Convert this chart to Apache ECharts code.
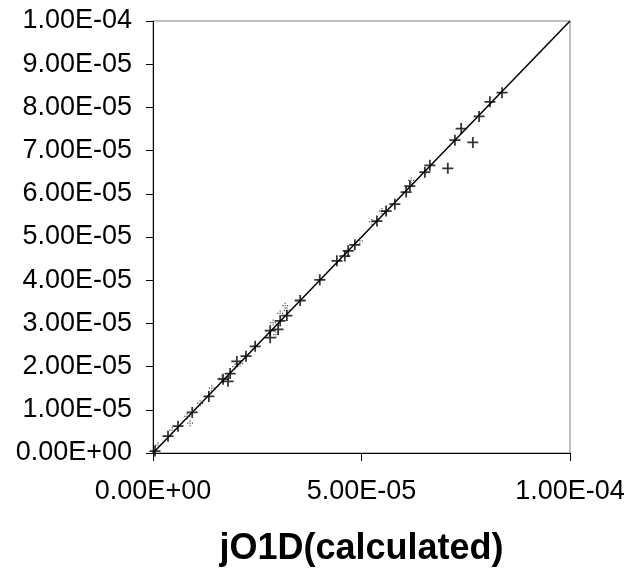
<!DOCTYPE html>
<html>
<head>
<meta charset="utf-8">
<script src="https://cdn.jsdelivr.net/npm/echarts@6/dist/echarts.min.js"></script>
<style>
html,body{margin:0;padding:0;background:#fff;}
#chart{width:631px;height:572px;}
</style>
</head>
<body>
<div id="chart"></div>
<script>
// Calculated jO1D (x) vs. measured (y), main "+" series
var plusX = [0.48e-6, 3.6e-6, 6.0e-6, 9.4e-6, 13.4e-6, 16.8e-6, 18.0e-6, 18.5e-6, 20.1e-6, 22.3e-6,
             24.5e-6, 28.1e-6, 28.1e-6, 30.0e-6, 30.5e-6, 32.1e-6, 35.3e-6, 40.0e-6, 44.1e-6, 46.0e-6,
             46.8e-6, 48.4e-6, 53.7e-6, 55.9e-6, 58.0e-6, 60.7e-6, 61.6e-6, 65.2e-6, 66.4e-6, 70.7e-6,
             72.4e-6, 73.9e-6, 76.7e-6, 78.2e-6, 80.8e-6, 83.7e-6];
var plusY = [0.46e-6, 3.9e-6, 6.2e-6, 9.4e-6, 13.1e-6, 17.1e-6, 16.6e-6, 18.4e-6, 21.2e-6, 22.4e-6,
             24.7e-6, 26.7e-6, 28.3e-6, 28.6e-6, 30.6e-6, 31.8e-6, 35.3e-6, 40.1e-6, 44.5e-6, 45.6e-6,
             46.8e-6, 48.2e-6, 53.7e-6, 56.0e-6, 57.6e-6, 60.4e-6, 61.8e-6, 65.0e-6, 66.6e-6, 65.9e-6,
             72.4e-6, 75.1e-6, 71.9e-6, 77.9e-6, 81.3e-6, 83.4e-6];
// Faint dotted marks (second series)
var dotX = [1.2e-6, 4.6e-6, 8.2e-6, 8.9e-6, 11.3e-6, 14.1e-6, 16.5e-6, 19.7e-6, 20.9e-6, 28.8e-6,
            29.5e-6, 30.5e-6, 31.7e-6, 32.1e-6, 49.6e-6, 52.5e-6, 54.9e-6, 61.9e-6];
var dotY = [1.8e-6, 5.3e-6, 8.5e-6, 6.9e-6, 11.5e-6, 15.0e-6, 17.3e-6, 20.0e-6, 20.7e-6, 30.2e-6,
            27.4e-6, 32.3e-6, 34.1e-6, 33.0e-6, 49.1e-6, 53.5e-6, 56.0e-6, 63.1e-6];
// 1:1 reference line
var lineX = [0, 1e-4];
var lineY = [0, 1e-4];
// Axis settings
var xTitle = 'jO1D(calculated)';
var axisMin = 0, axisMax = 1e-4, xStep = 5e-5, yStep = 1e-5;

function fmt(v) {
  var s = Number(v).toExponential(2).toUpperCase();
  var m = s.match(/^(-?[\d.]+)E([+-])(\d+)$/);
  if (!m) return s;
  var e = m[3].length < 2 ? '0' + m[3] : m[3];
  return m[1] + 'E' + m[2] + e;
}
function pairs(a, b) { return a.map(function (v, i) { return [v, b[i]]; }); }

var FONT = '"Liberation Sans", Arial, sans-serif';
var plusPath = 'path://M4.2,0H5.8V10H4.2Z M0,4.2H10V5.8H0Z';
var dotPath = 'path://M4,0H6V2H4Z M4,8H6V10H4Z M0,4H2V6H0Z M8,4H10V6H8Z M4,4H6V6H4Z';

var chart = echarts.init(document.getElementById('chart'), null, {renderer: 'canvas'});
chart.setOption({
  animation: false,
  backgroundColor: '#ffffff',
  grid: {left: 153, right: 61, top: 21, bottom: 117, show: true, borderColor: '#808080', borderWidth: 1},
  xAxis: {
    type: 'value', min: axisMin, max: axisMax, interval: xStep,
    name: xTitle, nameLocation: 'middle', nameGap: 78,
    nameTextStyle: {fontFamily: FONT, fontSize: 36, fontWeight: 'bold', color: '#000'},
    axisLine: {show: true, onZero: false, lineStyle: {color: '#000', width: 1}},
    axisTick: {show: true, length: 8, inside: false, lineStyle: {color: '#000'}},
    axisLabel: {formatter: fmt, fontFamily: FONT, fontSize: 27, color: '#000', margin: 25},
    splitLine: {show: false}
  },
  yAxis: {
    type: 'value', min: axisMin, max: axisMax, interval: yStep,
    axisLine: {show: true, onZero: false, lineStyle: {color: '#000', width: 1}},
    axisTick: {show: true, length: 7, lineStyle: {color: '#000'}},
    axisLabel: {formatter: fmt, fontFamily: FONT, fontSize: 27, color: '#000', margin: 21},
    splitLine: {show: false}
  },
  series: [
    {
      type: 'line', data: pairs(lineX, lineY), showSymbol: false, symbol: 'none',
      lineStyle: {color: '#000', width: 1.5}, z: 2
    },
    {
      type: 'scatter', data: pairs(dotX, dotY), symbol: dotPath, symbolSize: 6,
      itemStyle: {color: '#222222'}, z: 3
    },
    {
      type: 'scatter', data: pairs(plusX, plusY), symbol: plusPath, symbolSize: 11,
      itemStyle: {color: '#000'}, z: 4
    }
  ]
});
</script>
</body>
</html>
